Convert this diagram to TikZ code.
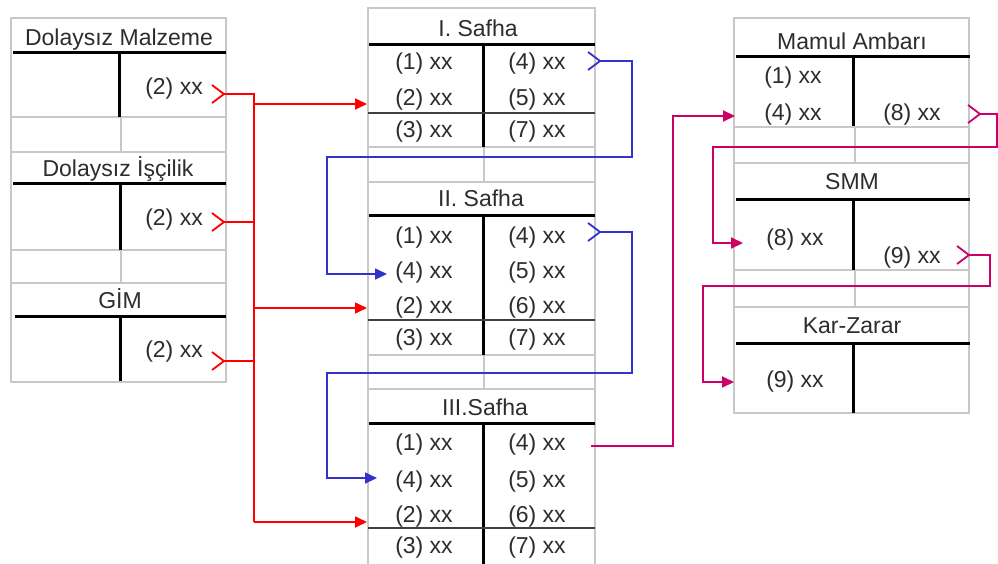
\documentclass[tikz,border=0pt]{standalone}
\usepackage{fontspec}
\setmainfont{Liberation Sans}
\usetikzlibrary{arrows.meta,calc}
\definecolor{gridgray}{RGB}{200,200,200}
\definecolor{txtgray}{RGB}{45,45,45}
\definecolor{lnred}{RGB}{255,0,0}
\definecolor{lnblue}{RGB}{51,51,204}
\definecolor{lnmag}{RGB}{204,0,102}
\tikzset{
  gridln/.style={draw=gridgray, line width=2pt},
  heavy/.style={draw=black, line width=3pt},
  midrule/.style={draw=black!75, line width=1.5pt},
  lbl/.style={font=\fontsize{23}{27}\selectfont, text=txtgray, inner sep=0pt, anchor=base},
  rlbl/.style={lbl, anchor=base east},
  conn/.style={line width=1.7pt},
  redc/.style={conn, draw=lnred},
  bluec/.style={conn, draw=lnblue},
  magc/.style={conn, draw=lnmag, line width=2pt},
  tipped/.style={-{Triangle[length=12pt,width=11pt]}},
  chev/.pic={\draw[pic actions, line width=1.8pt] (-12,-9) -- (0,0) -- (-12,9);}
}
\begin{document}
\begin{tikzpicture}[x=1pt,y=-1pt]
\useasboundingbox (0,0) rectangle (998,563);
\fill[white] (0,0) rectangle (998,563);

% ---------------- LEFT TABLE ----------------
\draw[gridln] (11,18) rectangle (226,382);
\draw[gridln] (11,117) -- (226,117) (11,152) -- (226,152) (121,117) -- (121,152);
\draw[gridln] (11,250) -- (226,250) (11,283) -- (226,283) (121,250) -- (121,283);
\draw[heavy] (13,52) -- (226,52) (119,52) -- (119,117);
\draw[heavy] (13,183) -- (226,183) (120,183) -- (120,250);
\draw[heavy] (15,316) -- (226,316) (120,316) -- (120,381);

\node[lbl] (dm) at (119,45) {Dolaysız Malzeme};
\node[rlbl] (dm2) at (203,94) {(2) xx};
\node[lbl] (di) at (118,176) {Dolaysız İşçilik};
\node[rlbl] (di2) at (203,225) {(2) xx};
\node[lbl] (gim) at (120,308) {GİM};
\node[rlbl] (gim2) at (203,357) {(2) xx};

% ---------------- MIDDLE TABLE ----------------
\draw[gridln] (368,8) rectangle (595,575);
\draw[gridln] (368,147) -- (595,147) (368,182) -- (595,182) (484,147) -- (484,182);
\draw[gridln] (368,355) -- (595,355) (368,389) -- (595,389) (484,355) -- (484,389);
\draw[heavy] (369,44) -- (595,44) (483,44) -- (483,147);
\draw[heavy] (369,215) -- (595,215) (483,215) -- (483,355);
\draw[heavy] (369,423) -- (595,423) (483,423) -- (483,570);
\draw[midrule] (368,113) -- (595,113);
\draw[midrule] (368,320) -- (595,320);
\draw[midrule] (368,528) -- (595,528);

\node[lbl] (s1) at (478,36) {I. Safha};
\node[lbl] (s1a) at (424,69) {(1) xx};
\node[lbl] (s1b) at (424,105) {(2) xx};
\node[lbl] (s1c) at (424,137) {(3) xx};
\node[lbl] (s1d) at (537,69) {(4) xx};
\node[lbl] (s1e) at (537,105) {(5) xx};
\node[lbl] (s1f) at (537,137) {(7) xx};

\node[lbl] (s2) at (481,206) {II. Safha};
\node[lbl] (s2a) at (424,243) {(1) xx};
\node[lbl] (s2b) at (424,278) {(4) xx};
\node[lbl] (s2c) at (424,313) {(2) xx};
\node[lbl] (s2d) at (424,345) {(3) xx};
\node[lbl] (s2e) at (537,243) {(4) xx};
\node[lbl] (s2f) at (537,278) {(5) xx};
\node[lbl] (s2g) at (537,313) {(6) xx};
\node[lbl] (s2h) at (537,345) {(7) xx};

\node[lbl] (s3) at (485,415) {III.Safha};
\node[lbl] (s3a) at (424,450) {(1) xx};
\node[lbl] (s3b) at (424,487) {(4) xx};
\node[lbl] (s3c) at (424,522) {(2) xx};
\node[lbl] (s3d) at (424,553) {(3) xx};
\node[lbl] (s3e) at (537,450) {(4) xx};
\node[lbl] (s3f) at (537,487) {(5) xx};
\node[lbl] (s3g) at (537,522) {(6) xx};
\node[lbl] (s3h) at (537,553) {(7) xx};

% ---------------- RIGHT TABLE ----------------
\draw[gridln] (734,18) rectangle (969,413);
\draw[gridln] (734,127) -- (969,127) (734,163) -- (969,163) (855,127) -- (855,163);
\draw[gridln] (734,270) -- (969,270) (734,307) -- (969,307) (855,270) -- (855,307);
\draw[heavy] (736,56) -- (970,56) (853,56) -- (853,126);
\draw[heavy] (736,199) -- (970,199) (853,199) -- (853,270);
\draw[heavy] (736,343) -- (970,343) (853,343) -- (853,413);

\node[lbl] (ma) at (852,49) {Mamul Ambarı};
\node[lbl] (ma1) at (793,83) {(1) xx};
\node[lbl] (ma4) at (793,120) {(4) xx};
\node[lbl] (ma8) at (912,120) {(8) xx};
\node[lbl] (smm) at (852,189) {SMM};
\node[lbl] (smm8) at (795,245) {(8) xx};
\node[lbl] (smm9) at (912,263) {(9) xx};
\node[lbl] (kz) at (852,333) {Kar-Zarar};
\node[lbl] (kz9) at (795,387) {(9) xx};

% ---------------- RED CONNECTORS ----------------
\coordinate (rs1) at (224,94);
\coordinate (rs2) at (224,222);
\coordinate (rs3) at (224,361);
\coordinate (rtT) at (254,94);
\coordinate (rtB) at (254,522);
\coordinate (rt1) at (367,104);
\coordinate (rt2) at (367,308);
\coordinate (rt3) at (367,522);
\draw[redc] (rs1) -- (rtT) -- (rtB);
\draw[redc] (rs2) -- (rs2 -| rtT);
\draw[redc] (rs3) -- (rs3 -| rtT);
\draw[redc,tipped] (rt1 -| rtT) -- (rt1);
\draw[redc,tipped] (rt2 -| rtT) -- (rt2);
\draw[redc,tipped] (rtB) -- (rt3);
\pic[draw=lnred] at (rs1) {chev};
\pic[draw=lnred] at (rs2) {chev};
\pic[draw=lnred] at (rs3) {chev};

% ---------------- BLUE CONNECTORS ----------------
\coordinate (bs1) at (600,61);
\coordinate (bt1) at (387,274);
\coordinate (bs2) at (600,232);
\coordinate (bt2) at (377,478);
\draw[bluec,tipped] (bs1) -| (632,157) -| (327,274) -- (bt1);
\draw[bluec,tipped] (bs2) -| (632,373) -| (327,478) -- (bt2);
\pic[draw=lnblue] at (bs1) {chev};
\pic[draw=lnblue] at (bs2) {chev};

% ---------------- MAGENTA CONNECTORS ----------------
\coordinate (ms1) at (591,446);
\coordinate (mt1) at (735,116);
\coordinate (ms2) at (980,114);
\coordinate (mt2) at (743,243);
\coordinate (ms3) at (969,255);
\coordinate (mt3) at (734,382);
\draw[magc,tipped] (ms1) -| (673,116) -- (mt1);
\draw[magc,tipped] (ms2) -| (997,147) -| (713,243) -- (mt2);
\draw[magc,tipped] (ms3) -| (990,286) -| (703,382) -- (mt3);
\pic[draw=lnmag] at (ms2) {chev};
\pic[draw=lnmag] at (ms3) {chev};
\end{tikzpicture}
\end{document}
